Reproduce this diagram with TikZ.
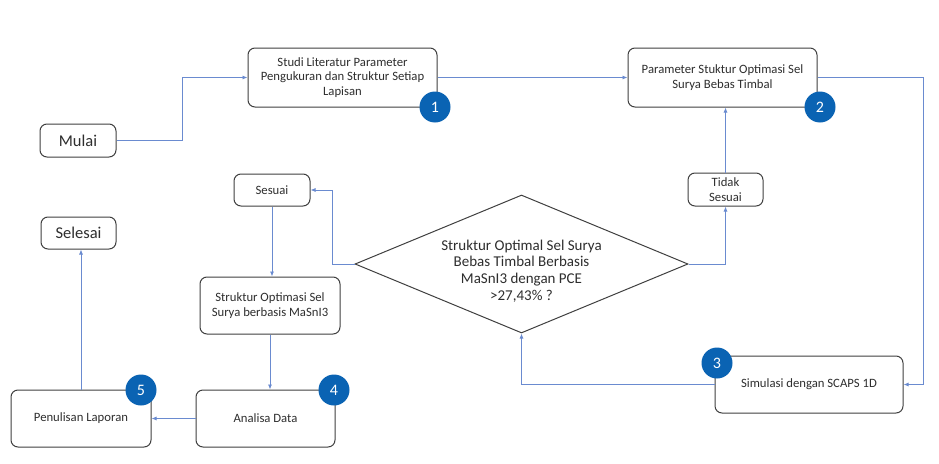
\documentclass[tikz,border=0pt]{standalone}
\usepackage{fontspec}
\setmainfont{Carlito}
\usetikzlibrary{arrows.meta,shapes.geometric}
\definecolor{boxline}{HTML}{404040}
\definecolor{connc}{HTML}{6A8BD0}
\definecolor{badgec}{HTML}{0A63B3}
\tikzset{
 box/.style={draw=boxline, line width=1pt, rounded corners=7pt, align=center, font=\fontsize{12.7}{14.8}\selectfont, inner sep=0pt, text=black!82},
 bigbox/.style={box, font=\fontsize{16.5}{18}\selectfont},
 conn/.style={draw=connc, line width=0.8pt, -{Latex[length=5pt,width=4pt]}},
 badge/.style={circle, fill=badgec, text=white, minimum size=31pt, inner sep=0pt, font=\fontsize{16}{16}\selectfont},
}
\begin{document}
\begin{tikzpicture}[x=1pt,y=-1pt]
\useasboundingbox[fill=white] (0,0) rectangle (939,463);
% nodes
\node[bigbox, minimum width=76pt, minimum height=33pt] (mulai) at (78,140.5) {Mulai};
\node[box, minimum width=189pt, minimum height=59pt] (studi) at (342.5,77.5) {Studi Literatur Parameter\\Pengukuran dan Struktur Setiap\\Lapisan};
\node[box, minimum width=189pt, minimum height=59pt] (param) at (722.5,77.5) {Parameter Stuktur Optimasi Sel\\Surya Bebas Timbal};
\node[box, minimum width=188pt, minimum height=57pt] (sim) at (809,384.5) {Simulasi dengan SCAPS 1D};
\node[diamond, draw=boxline, line width=1pt, minimum width=333pt, minimum height=138pt, inner sep=0pt] (dec) at (521.5,264) {};
\node[align=center, font=\fontsize{15}{16.8}\selectfont, text=black!82] (dectext) at (521.5,271) {Struktur Optimal Sel Surya\\Bebas Timbal Berbasis\\MaSnI3 dengan PCE\\>27,43\% ?};
\node[box, minimum width=75pt, minimum height=33pt] (tidak) at (725.5,189.5) {Tidak\\Sesuai};
\node[box, minimum width=76pt, minimum height=32pt] (sesuai) at (272,190) {Sesuai};
\node[box, minimum width=140pt, minimum height=57pt] (sos) at (270,305.5) {Struktur Optimasi Sel\\Surya berbasis MaSnI3};
\node[box, minimum width=139pt, minimum height=57pt] (ana) at (265.5,418.5) {Analisa Data};
\node[box, minimum width=140pt, minimum height=57pt] (pen) at (81,418.5) {Penulisan Laporan};
\node[bigbox, minimum width=75pt, minimum height=32pt] (sel) at (78.5,233) {Selesai};
% connectors
\draw[conn] (mulai.east) -- ++(66,0) |- (studi.west);
\draw[conn] (studi.east) -- (param.west);
\draw[conn] (param.east) -- ++(106,0) |- (sim.east);
\draw[conn] (sim.west) -| (dec.south);
\draw[conn] (dec.east) -| (tidak.south);
\draw[conn] (tidak.north) -- (tidak.north |- param.south);
\draw[conn] (dec.west) -- ++(-22,0) |- (sesuai.east);
\draw[conn] (sesuai.south) -- (sesuai.south |- sos.north);
\draw[conn] (sos.south) -- (sos.south |- ana.north);
\draw[conn] (ana.west) -- (pen.east);
\draw[conn] (pen.north) -- (pen.north |- sel.south);
% badges
\node[badge] (b1) at (435,107) {1};
\node[badge] (b2) at (820,107) {2};
\node[badge] (b3) at (717,363) {3};
\node[badge] (b4) at (334,390) {4};
\node[badge] (b5) at (141,390) {5};
\end{tikzpicture}
\end{document}
